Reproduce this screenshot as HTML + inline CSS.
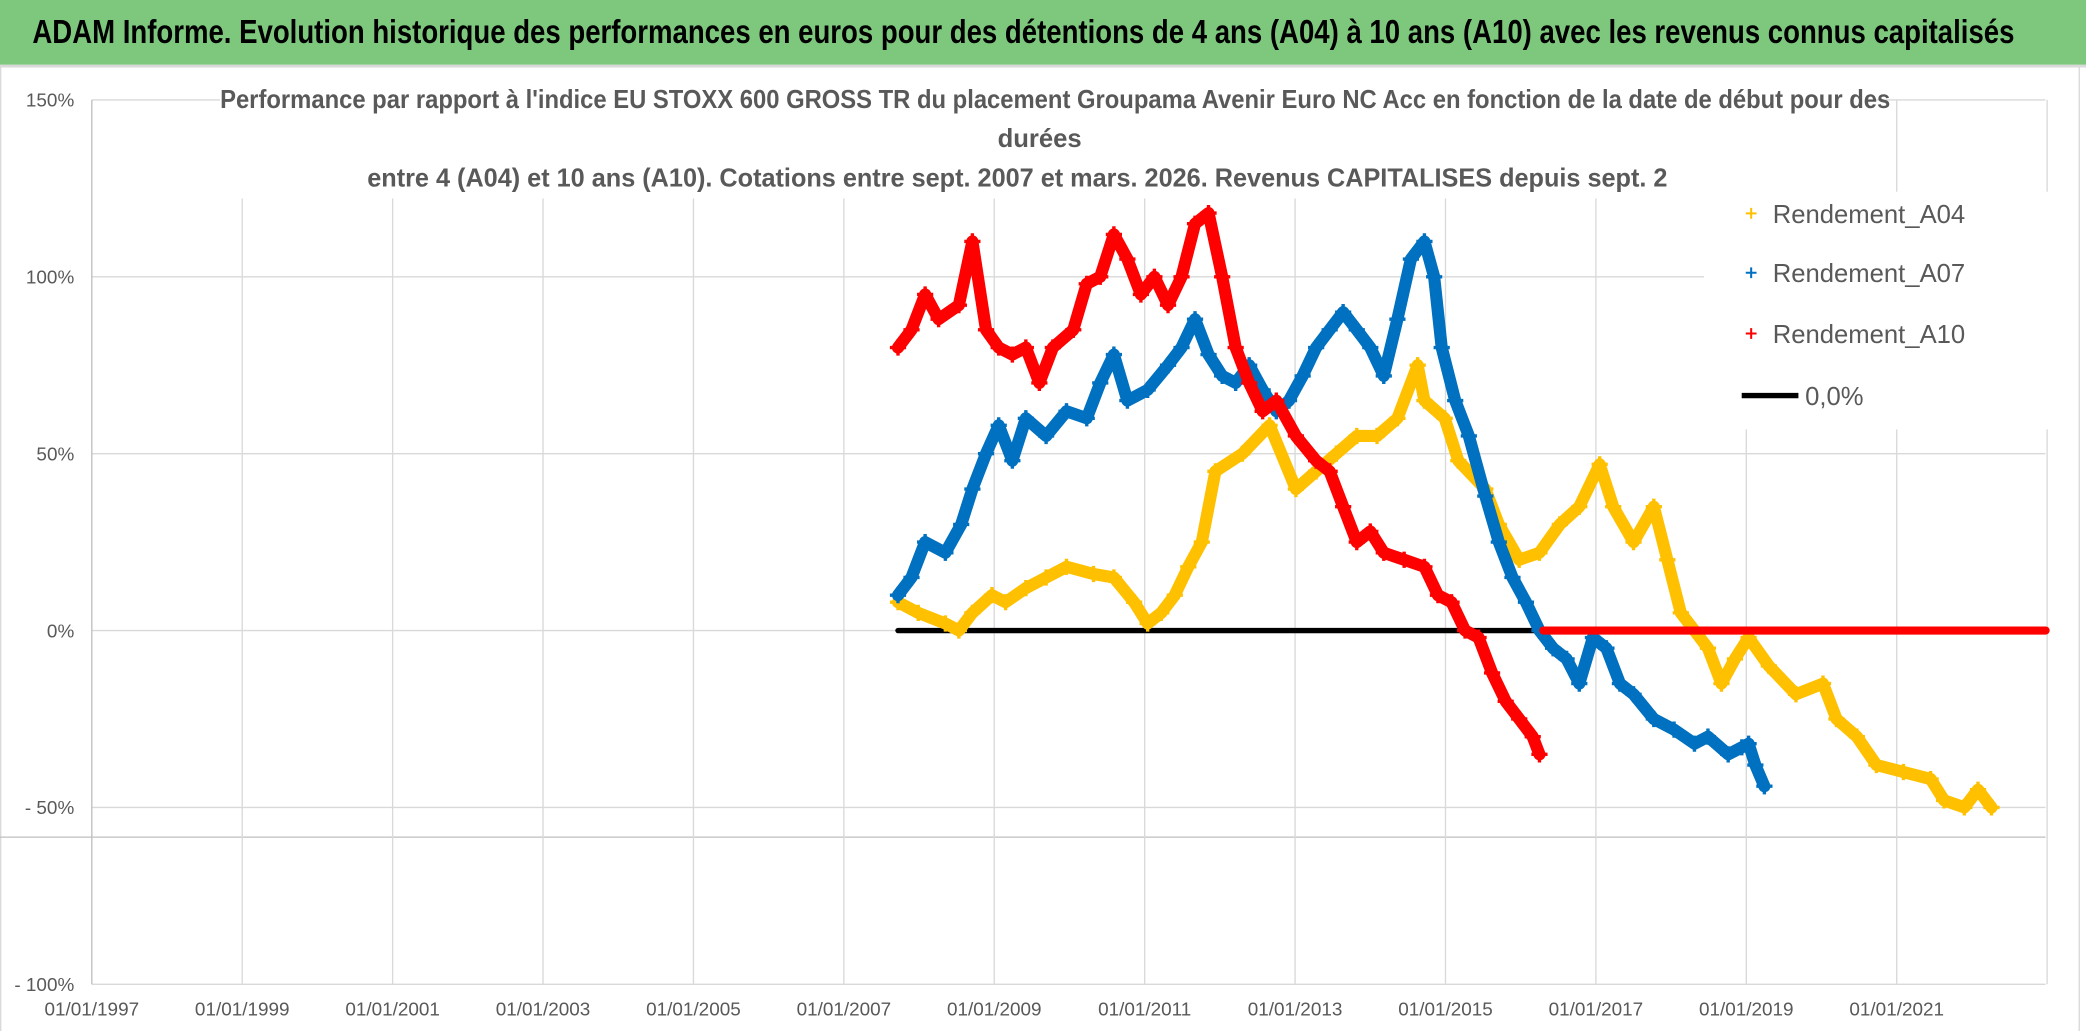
<!DOCTYPE html>
<html><head><meta charset="utf-8"><style>
html,body{margin:0;padding:0;background:#fff;}
svg{display:block;}
text{font-family:"Liberation Sans Narrow","Liberation Sans",sans-serif;}
</style></head><body>
<svg id="chart" width="2086" height="1031" viewBox="0 0 1545 763.6" preserveAspectRatio="none" xmlns="http://www.w3.org/2000/svg">
<rect x="0" y="0" width="1545" height="764" fill="#fff"/>
<rect x="0" y="0" width="1545" height="48" fill="#7ec87e"/>
<line x1="0" y1="49" x2="1545" y2="49" stroke="#d9d9d9" stroke-width="2"/>
<text x="24" y="32" font-size="25" font-weight="bold" fill="#000" textLength="1468" lengthAdjust="spacingAndGlyphs">ADAM Informe. Evolution historique des performances en euros pour des détentions de 4 ans (A04) à 10 ans (A10) avec les revenus connus capitalisés</text>
<line x1="0.5" y1="50" x2="0.5" y2="764" stroke="#d9d9d9"/>
<line x1="1540" y1="50" x2="1540" y2="764" stroke="#d9d9d9"/>
<line x1="0" y1="620" x2="1515" y2="620" stroke="#bfbfbf" stroke-width="1"/>
<g id="grid"></g>
<rect x="163" y="62" width="1221" height="85" fill="#fff"/>
<g fill="#595959" font-weight="bold" font-size="19">
<text x="163" y="80" textLength="1237" lengthAdjust="spacingAndGlyphs">Performance par rapport à l'indice EU STOXX 600 GROSS TR  du placement Groupama Avenir Euro NC Acc en fonction de la date de début pour des</text>
<text x="770" y="109" text-anchor="middle">durées</text>
<text x="272" y="138" textLength="963" lengthAdjust="spacingAndGlyphs">entre 4 (A04) et 10 ans (A10). Cotations entre sept. 2007 et mars. 2026. Revenus CAPITALISES depuis sept. 2</text>
</g>
<g id="axes"></g>
<g id="series"></g>
<rect x="1262" y="142" width="256" height="176" fill="#fff"/>
<g font-size="19" fill="#595959">
<g><path d="M1293,158h8M1297,154v8" stroke="#ffc000" stroke-width="1.5"/><text x="1313" y="165">Rendement_A04</text></g>
<g><path d="M1293,202h8M1297,198v8" stroke="#0070c0" stroke-width="1.5"/><text x="1313" y="209">Rendement_A07</text></g>
<g><path d="M1293,247h8M1297,243v8" stroke="#ff0000" stroke-width="1.5"/><text x="1313" y="254">Rendement_A10</text></g>
<g><line x1="1290" y1="293" x2="1332" y2="293" stroke="#000" stroke-width="4"/><text x="1337" y="300">0,0%</text></g>
</g>
</svg>
<script>
const yTicks=[150,100,50,0,-50,-100];
const yTickLabels=["150%","100%","50%","0%","- 50%","- 100%"];
const xTicks=[1997,1999,2001,2003,2005,2007,2009,2011,2013,2015,2017,2019,2021,2023];
const xTickLabels=["01/01/1997","01/01/1999","01/01/2001","01/01/2003","01/01/2005","01/01/2007","01/01/2009","01/01/2011","01/01/2013","01/01/2015","01/01/2017","01/01/2019","01/01/2021",""];
const a04Dates=[2007.72,2007.99,2008.35,2008.53,2008.71,2008.97,2009.15,2009.42,2009.69,2009.96,2010.32,2010.59,2010.86,2011.04,2011.22,2011.40,2011.58,2011.76,2011.94,2012.30,2012.66,2013.01,2013.28,2013.55,2013.82,2014.09,2014.36,2014.63,2014.72,2014.99,2015.17,2015.53,2015.71,2015.98,2016.25,2016.52,2016.78,2017.05,2017.23,2017.50,2017.77,2017.95,2018.13,2018.31,2018.49,2018.67,2018.85,2019.03,2019.30,2019.66,2020.02,2020.20,2020.47,2020.73,2021.09,2021.45,2021.63,2021.90,2022.08,2022.26];
const a04Values=[8,5,2,0,5,10,8,12,15,18,16,15,8,2,5,10,18,25,45,50,58,40,45,50,55,55,60,75,65,60,48,40,30,20,22,30,35,47,35,25,35,20,5,0,-5,-15,-8,-2,-10,-18,-15,-25,-30,-38,-40,-42,-48,-50,-45,-50];
const a07Dates=[2007.72,2007.90,2008.08,2008.35,2008.56,2008.71,2008.89,2009.06,2009.24,2009.42,2009.69,2009.96,2010.23,2010.41,2010.59,2010.77,2011.04,2011.31,2011.49,2011.67,2011.85,2012.03,2012.21,2012.39,2012.57,2012.75,2012.92,2013.10,2013.28,2013.46,2013.64,2013.82,2014.00,2014.18,2014.36,2014.54,2014.72,2014.85,2014.95,2015.13,2015.31,2015.53,2015.71,2015.89,2016.07,2016.25,2016.43,2016.61,2016.78,2016.96,2017.14,2017.32,2017.50,2017.77,2018.04,2018.31,2018.49,2018.76,2018.94,2019.03,2019.12,2019.24];
const a07Values=[10,15,25,22,30,40,50,58,48,60,55,62,60,70,78,65,68,75,80,88,78,72,70,75,68,62,65,72,80,85,90,85,80,72,88,105,110,100,80,65,55,38,25,15,8,0,-5,-8,-15,-2,-5,-15,-18,-25,-28,-32,-30,-35,-33,-32,-38,-44];
const a10Dates=[2007.72,2007.90,2008.08,2008.26,2008.53,2008.71,2008.89,2009.06,2009.24,2009.42,2009.60,2009.78,2010.05,2010.23,2010.41,2010.59,2010.77,2010.95,2011.13,2011.31,2011.49,2011.67,2011.85,2012.03,2012.21,2012.39,2012.57,2012.75,2013.01,2013.28,2013.46,2013.64,2013.82,2014.00,2014.18,2014.45,2014.72,2014.90,2015.08,2015.26,2015.44,2015.62,2015.80,2015.98,2016.16,2016.25];
const a10Values=[80,85,95,88,92,110,85,80,78,80,70,80,85,98,100,112,105,95,100,92,100,115,118,100,80,70,62,65,55,48,45,35,25,28,22,20,18,10,8,0,-2,-12,-20,-25,-30,-35];
const a10ZeroDates=[2016.30,2022.98];
const a10ZeroValues=[0,0];
const zeroDates=[2007.72,2016.30];
const zeroValues=[0,0];

const NS="http://www.w3.org/2000/svg";
const X0=68,XPY=55.7,Y0=467,YPP=2.62;
function xs(d){return X0+(d-1997)*XPY;}
function ys(v){return Y0-v*YPP;}
function mk(tag,attrs,parent){const e=document.createElementNS(NS,tag);for(const k in attrs)e.setAttribute(k,attrs[k]);parent.appendChild(e);return e;}

const grid=document.getElementById('grid');
yTicks.forEach(v=>{
  const l=mk('line',{x1:X0,x2:1515,y1:ys(v),y2:ys(v),stroke:'#d9d9d9','stroke-width':1},grid);
  
  
});
xTicks.forEach(d=>{
  const l=mk('line',{x1:xs(d),x2:xs(d),y1:ys(150),y2:ys(-100),stroke:d===1997?'#bfbfbf':'#d9d9d9','stroke-width':1},grid);
  
  
});
const axes=document.getElementById('axes');
yTicks.forEach((v,i)=>{
  const t=mk('text',{x:55,y:ys(v)+5,'text-anchor':'end','font-size':14,fill:'#595959'},axes);
  t.textContent=yTickLabels[i];
  
  
});
xTicks.forEach((d,i)=>{
  const t=mk('text',{x:xs(d),y:752,'text-anchor':'middle','font-size':14,fill:'#595959'},axes);
  t.textContent=xTickLabels[i];
  
  
});

const ser=document.getElementById('series');
function drawSeries(dates,vals,color,name,w,markers){
  const g=mk('g',{},ser);
  
  
  const pts=dates.map((d,i)=>xs(d).toFixed(1)+','+ys(vals[i]).toFixed(1)).join(' ');
  mk('polyline',{points:pts,fill:'none',stroke:color,'stroke-width':w,'stroke-linejoin':'round','stroke-linecap':'round'},g);
  if(markers){
    let p='';
    dates.forEach((d,i)=>{const x=xs(d),y=ys(vals[i]);p+=`M${(x-6).toFixed(1)},${y.toFixed(1)}h12M${x.toFixed(1)},${(y-6).toFixed(1)}v12`;});
    mk('path',{d:p,stroke:color,'stroke-width':2.5,fill:'none'},g);
  }
}
drawSeries(zeroDates,zeroValues,'#000','series-zero-line',4,false);
drawSeries(a04Dates,a04Values,'#ffc000','series-a04',9,true);
drawSeries(a07Dates,a07Values,'#0070c0','series-a07',9,true);
drawSeries(a10Dates,a10Values,'#ff0000','series-a10',9,true);
drawSeries(a10ZeroDates,a10ZeroValues,'#ff0000','series-a10-zero',6,false);
</script>
</body></html>
